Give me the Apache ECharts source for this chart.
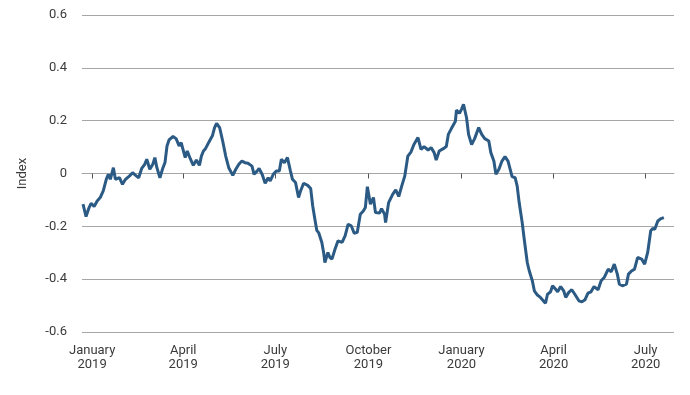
<!DOCTYPE html>
<html>
<head>
<meta charset="utf-8">
<script src="https://cdn.jsdelivr.net/npm/echarts@6/dist/echarts.min.js"></script>
<style>
html,body{margin:0;padding:0;background:#fff;}
#chart{width:690px;height:395px;}
</style>
</head>
<body>
<div id="chart"></div>
<script>
// Day offsets from 1 January 2019 and index values
var dayOffsets = [-9,-6,-3,-1,2,5,8,11,14,16,18,21,23,27,30,33,37,40,43,46,49,52,54,57,60,62,64,67,70,72,74,76,80,83,86,88,92,94,97,100,103,106,108,110,
112,116,119,121,123,126,129,132,135,139,142,145,148,151,154,158,160,163,165,168,171,174,176,179,182,185,187,190,193,196,198,201,204,206,209,213,216,218,
220,222,224,227,229,230,233,235,237,240,243,247,250,253,256,259,262,265,268,270,272,275,278,280,284,286,289,290,293,297,300,303,306,309,312,315,318,322,325,328,332,335,338,
340,343,347,350,352,355,359,360,363,365,367,370,372,375,378,382,385,388,392,394,397,399,402,405,408,411,415,418,420,422,425,427,430,432,435,437,440,443,
448,450,453,455,458,460,463,466,468,471,474,477,481,484,487,490,493,496,500,503,506,510,513,516,519,521,524,528,530,533,536,539,543,546,549,552,554,556,559,562,565];
var values = [-0.116,-0.163,-0.129,-0.113,-0.125,-0.104,-0.091,-0.066,-0.022,-0.003,-0.022,0.022,-0.022,-0.016,-0.041,-0.022,-0.009,0.003,-0.007,-0.016,0.019,0.035,0.054,0.016,0.035,0.060,0.022,-0.016,0.022,0.041,0.104,0.127,0.140,0.132,0.104,0.117,0.060,0.085,0.056,0.031,0.051,0.031,0.066,0.085,
0.094,0.123,0.144,0.174,0.190,0.174,0.123,0.066,0.022,-0.007,0.016,0.035,0.047,0.041,0.039,0.028,-0.003,0.009,0.019,-0.003,-0.037,-0.016,-0.028,-0.003,0.009,0.009,0.054,0.041,0.060,0.009,-0.022,-0.034,-0.091,-0.066,-0.037,-0.045,-0.057,-0.123,
-0.170,-0.215,-0.225,-0.261,-0.305,-0.337,-0.299,-0.318,-0.324,-0.287,-0.255,-0.261,-0.236,-0.192,-0.198,-0.226,-0.223,-0.154,-0.142,-0.129,-0.050,-0.116,-0.091,-0.148,-0.150,-0.133,-0.154,-0.186,-0.110,-0.079,-0.062,-0.087,-0.047,-0.009,0.066,0.081,0.110,0.136,0.091,0.102,0.089,0.098,0.079,
0.051,0.085,0.094,0.102,0.148,0.170,0.198,0.240,0.228,0.243,0.262,0.211,0.148,0.110,0.132,0.174,0.148,0.132,0.123,0.079,0.047,-0.003,0.016,0.047,0.064,0.047,-0.012,-0.016,-0.047,-0.110,-0.186,-0.249,-0.337,-0.369,-0.406,-0.444,-0.460,-0.469,
-0.491,-0.457,-0.448,-0.425,-0.438,-0.448,-0.428,-0.444,-0.469,-0.450,-0.440,-0.457,-0.482,-0.486,-0.478,-0.453,-0.448,-0.428,-0.440,-0.406,-0.394,-0.362,-0.372,-0.343,-0.381,-0.419,-0.425,-0.419,-0.381,-0.369,-0.362,-0.318,-0.324,-0.343,-0.299,-0.217,-0.208,-0.211,-0.180,-0.171,-0.167];
// Tick dates [year, monthIndex] and their labels
var tickDates = [[2019,0],[2019,3],[2019,6],[2019,9],[2020,0],[2020,3],[2020,6]];
var tickLabels = ['January\n2019','April\n2019','July\n2019','October\n2019','January\n2020','April\n2020','July\n2020'];
var yTicks = [-0.6,-0.4,-0.2,0,0.2,0.4,0.6];

function dayToTime(d){ return new Date(2019,0,1+d).getTime(); }
var seriesData = dayOffsets.map(function(d,i){ return [dayToTime(d), values[i]]; });
var tickValues = tickDates.map(function(t){ return new Date(t[0],t[1],1).getTime(); });
var labelMap = {};
tickValues.forEach(function(v,i){ labelMap[v] = tickLabels[i]; });

var chart = echarts.init(document.getElementById('chart'), null, {renderer:'canvas'});
chart.setOption({
  animation:false,
  backgroundColor:'#ffffff',
  grid:{left:82,right:16,top:15,bottom:63,containLabel:false},
  xAxis:{
    type:'value',
    min:dayToTime(-10),
    max:dayToTime(575),
    splitLine:{show:false},
    axisLine:{show:true,lineStyle:{color:'#a6a6a6',width:1}},
    axisTick:{show:true,customValues:tickValues,length:5,inside:false,lineStyle:{color:'#555',width:1}},
    axisLabel:{customValues:tickValues,formatter:function(v){return labelMap[v]||'';},
      fontFamily:'Roboto',fontSize:13,color:'#3a3a3a',lineHeight:14,margin:12,align:'center'}
  },
  yAxis:{
    type:'value',
    min:-0.6,max:0.6,interval:0.2,
    name:'Index',nameLocation:'middle',nameGap:53,nameRotate:90,
    nameTextStyle:{fontFamily:'Roboto',fontSize:13,color:'#3a3a3a'},
    axisLine:{show:false},axisTick:{show:false},
    splitLine:{show:true,lineStyle:{color:'#a6a6a6',width:1}},
    axisLabel:{fontFamily:'Roboto',fontSize:13,color:'#3a3a3a',margin:15,
      formatter:function(v){ var r=Math.round(v*10)/10; return r===0?'0':r.toFixed(1); }}
  },
  series:[{
    type:'line',
    data:seriesData,
    showSymbol:false,
    symbol:'none',
    smooth:false,
    lineStyle:{color:'#2b5a84',width:3},
    itemStyle:{color:'#2b5a84'}
  }]
});
</script>
</body>
</html>
